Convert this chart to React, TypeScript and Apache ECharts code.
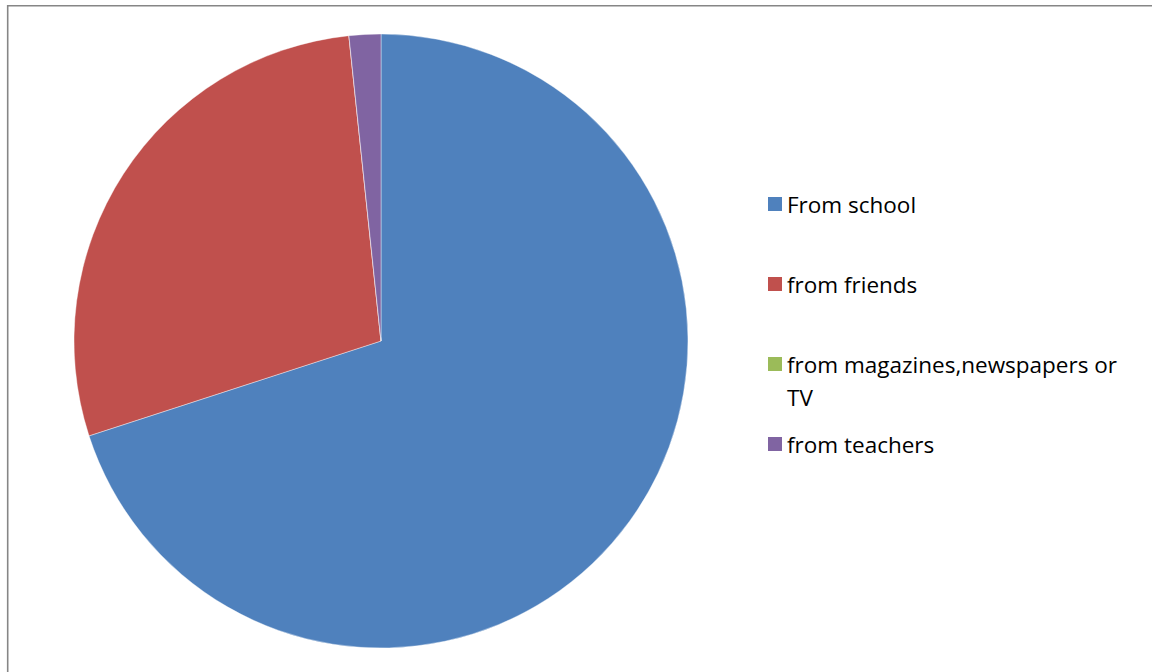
import React, { useEffect, useRef } from "react";
import * as echarts from "echarts";

const categories = [
  "From school",
  "from friends",
  "from magazines,newspapers or TV",
  "from teachers",
];
const values = [42, 17, 0, 1];
const colors = ["#4F81BD", "#C0504D", "#9BBB59", "#8064A2"];

const FONT = "'Open Sans', sans-serif";
const legendCenters = [204, 284, 364, 444];

export default function App() {
  const ref = useRef<HTMLDivElement>(null);
  useEffect(() => {
    if (!ref.current) return;
    const chart = echarts.init(ref.current, undefined, { renderer: "svg" });
    const legends = categories.map((name, i) => {
      const wrap = i === 2;
      const textStyle: any = {
        fontFamily: FONT,
        fontSize: 22.5,
        color: "#000000",
        lineHeight: 33,
      };
      if (wrap) {
        textStyle.width = 345;
        textStyle.overflow = "break";
      }
      return {
        show: true,
        orient: "vertical",
        left: 768,
        top: legendCenters[i] - 16.5,
        padding: 0,
        itemWidth: 14,
        itemHeight: wrap ? 47 : 14,
        icon: wrap ? "path://M0,0H14V14H0ZM0,47H14" : "rect",
        selectedMode: false,
        itemStyle: { borderWidth: 0 },
        data: [{ name, itemStyle: { color: colors[i], borderWidth: 0 } }],
        textStyle,
      };
    });
    chart.setOption({
      animation: false,
      color: colors,
      legend: legends,
      graphic: [
        {
          type: "rect",
          shape: { x: 7.7, y: 5.7, width: 2000, height: 2000 },
          style: { fill: "none", stroke: "#868686", lineWidth: 1.6 },
          silent: true,
        },
      ],
      series: [
        {
          type: "pie",
          center: [381, 341],
          radius: 307,
          startAngle: 90,
          clockwise: true,
          label: { show: false },
          labelLine: { show: false },
          emphasis: { disabled: true },
          itemStyle: { borderColor: "#ffffff", borderWidth: 0.4 },
          data: categories.map((name, i) => ({
            name,
            value: values[i],
            itemStyle: { color: colors[i] },
          })),
        },
      ],
    });
    return () => chart.dispose();
  }, []);
  return (
    <div
      ref={ref}
      style={{
        position: "fixed",
        left: 0,
        top: 0,
        width: 1152,
        height: 672,
        background: "#ffffff",
      }}
    />
  );
}
